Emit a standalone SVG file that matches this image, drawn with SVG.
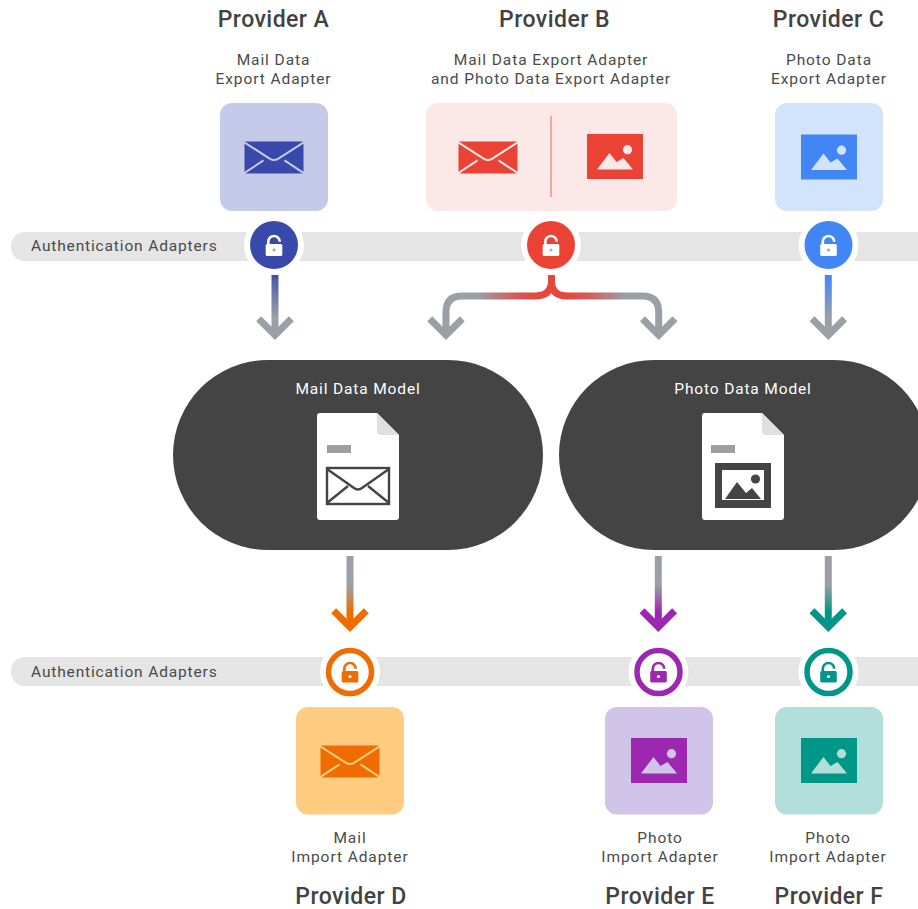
<svg xmlns="http://www.w3.org/2000/svg" width="918" height="909" viewBox="0 0 918 909">
<style>
text{font-family:Roboto,"Liberation Sans",sans-serif;text-anchor:middle}
.prov{font-size:23px;font-weight:500;fill:#424242;letter-spacing:.45px}
.sub{font-size:15.5px;fill:#4a4a4a;letter-spacing:.92px}
.band{font-size:15.5px;fill:#4a4a4a;letter-spacing:.85px;text-anchor:start}
.model{font-size:15.5px;fill:#fff;letter-spacing:.85px}
.bandr{fill:#e5e5e5}
.halo{fill:#fff}
.stem{fill:none;stroke-width:7}
.head{fill:none;stroke-width:7}
.blob{fill:#444}
.shk{fill:none;stroke-width:2.600}
</style>
<defs>
<linearGradient id="gA" gradientUnits="userSpaceOnUse" x1="0" y1="275" x2="0" y2="318"><stop offset="0" stop-color="#3949ab"/><stop offset=".15" stop-color="#5364a6"/><stop offset="1" stop-color="#9aa0a6"/></linearGradient>
<linearGradient id="gC" gradientUnits="userSpaceOnUse" x1="0" y1="275" x2="0" y2="318"><stop offset="0" stop-color="#4285f4"/><stop offset="1" stop-color="#9aa0a6"/></linearGradient>
<linearGradient id="gBL" gradientUnits="userSpaceOnUse" x1="538" y1="0" x2="478" y2="0"><stop offset="0" stop-color="#e5473c"/><stop offset=".3" stop-color="#d9554e"/><stop offset="1" stop-color="#9aa0a6"/></linearGradient>
<linearGradient id="gBR" gradientUnits="userSpaceOnUse" x1="565" y1="0" x2="625" y2="0"><stop offset="0" stop-color="#e5473c"/><stop offset=".3" stop-color="#d9554e"/><stop offset="1" stop-color="#9aa0a6"/></linearGradient>
<linearGradient id="gD" gradientUnits="userSpaceOnUse" x1="0" y1="585" x2="0" y2="612"><stop offset="0" stop-color="#9aa0a6"/><stop offset="1" stop-color="#ef6c00"/></linearGradient>
<linearGradient id="gE" gradientUnits="userSpaceOnUse" x1="0" y1="585" x2="0" y2="612"><stop offset="0" stop-color="#9aa0a6"/><stop offset="1" stop-color="#9c27b0"/></linearGradient>
<linearGradient id="gF" gradientUnits="userSpaceOnUse" x1="0" y1="585" x2="0" y2="612"><stop offset="0" stop-color="#9aa0a6"/><stop offset="1" stop-color="#009688"/></linearGradient>
<symbol id="env" viewBox="0 0 60 33" width="60" height="33" overflow="visible">
<rect x="0" y="0" width="60" height="33"/>
<path d="M-.5 .8L26 17.8Q30 20.2 34 17.8L60.5 .8M-.5 32.6L19.5 19.4M60.5 32.6L40.5 19.4" fill="none" stroke="inherit" stroke-width="2"/>
</symbol>
<symbol id="pic" viewBox="0 0 56 45" width="56" height="45" overflow="visible">
<rect x="0" y="0" width="56" height="45"/>
<path d="M10 35.500L22.500 19L29.500 28L36.500 24L46 35.500Z" fill="var(--p)"/>
<circle cx="40.500" cy="15.700" r="4.600" fill="var(--p)"/>
</symbol>
<path id="arm" d="M-16.300 -16.300L0 0L16.300 -16.300"/>
<path id="shk" d="M-5.700 0V-3.300a5.700 5.700 0 0 1 11.400 0"/>
</defs>

<g id="band-top"><rect class="bandr" x="11" y="232" width="930" height="29" rx="14"/><text class="band" x="31" y="250.500">Authentication Adapters</text></g>
<g id="band-bottom"><rect class="bandr" x="11" y="657" width="930" height="29" rx="14"/><text class="band" x="31" y="677">Authentication Adapters</text></g>

<g id="connectors">
<path class="stem" d="M275 275V333" stroke="url(#gA)"/>
<use href="#arm" x="275" y="335" class="head" stroke="#9aa0a6"/>
<path class="stem" d="M551.500 275V281Q551.500 296 535 296H462Q446 296 446 312V333" stroke="url(#gBL)"/>
<path class="stem" d="M551.500 275V281Q551.500 296 567 296H642Q658.700 296 658.700 312V333" stroke="url(#gBR)"/>
<use href="#arm" x="446" y="335" class="head" stroke="#9aa0a6"/>
<use href="#arm" x="658.700" y="335" class="head" stroke="#9aa0a6"/>
<path class="stem" d="M828.300 275V333" stroke="url(#gC)"/>
<use href="#arm" x="828.300" y="335" class="head" stroke="#9aa0a6"/>
<path class="stem" d="M350 556V625" stroke="url(#gD)"/>
<use href="#arm" x="350" y="627" class="head" stroke="#ef6c00"/>
<path class="stem" d="M658.300 556V625" stroke="url(#gE)"/>
<use href="#arm" x="658.300" y="627" class="head" stroke="#9c27b0"/>
<path class="stem" d="M828.300 556V625" stroke="url(#gF)"/>
<use href="#arm" x="828.300" y="627" class="head" stroke="#009688"/>
</g>

<g id="provider-a">
<text class="prov" x="273.500" y="27">Provider A</text>
<text class="sub" x="273.500" y="64.500">Mail Data</text><text class="sub" x="273.500" y="83.500">Export Adapter</text>
<rect x="220" y="103" width="108" height="108" rx="12" fill="#c5cae9"/>
<use href="#env" x="244" y="141" fill="#3949ab" stroke="#c5cae9"/>
</g>
<g id="provider-b">
<text class="prov" x="554.500" y="27">Provider B</text>
<text class="sub" x="551" y="64.500">Mail Data Export Adapter</text><text class="sub" x="551" y="83.500">and Photo Data Export Adapter</text>
<rect x="426" y="103" width="251" height="108" rx="12" fill="#fce8e6"/>
<path d="M551 116V197" stroke="#f28b82" stroke-width="1.400"/>
<use href="#env" x="458" y="141" fill="#ea4335" stroke="#fce8e6"/>
<use href="#pic" x="587" y="134" fill="#ea4335" style="--p:#fce8e6"/>
</g>
<g id="provider-c">
<text class="prov" x="828.500" y="27">Provider C</text>
<text class="sub" x="829" y="64.500">Photo Data</text><text class="sub" x="829" y="83.500">Export Adapter</text>
<rect x="775" y="103" width="108" height="108" rx="12" fill="#d2e3fc"/>
<use href="#pic" x="801" y="134.500" fill="#4285f4" style="--p:#d2e3fc"/>
</g>

<g id="lock-a"><circle class="halo" cx="274" cy="245" r="30"/><circle cx="274" cy="245" r="24" fill="#3949ab"/>
<use href="#shk" x="274" y="245" class="shk" stroke="#fff"/><rect x="265.700" y="244" width="16.600" height="12" rx="1.500" fill="#fff"/><circle cx="274" cy="250" r="1.500" fill="#9aa0c0"/></g>
<g id="lock-b"><circle class="halo" cx="551" cy="245" r="30"/><circle cx="551" cy="245" r="24" fill="#ea4335"/>
<use href="#shk" x="551" y="245" class="shk" stroke="#fff"/><rect x="542.700" y="244" width="16.600" height="12" rx="1.500" fill="#fff"/><circle cx="551" cy="250" r="1.500" fill="#c9a0a0"/></g>
<g id="lock-c"><circle class="halo" cx="828.500" cy="245" r="30"/><circle cx="828.500" cy="245" r="24" fill="#4285f4"/>
<use href="#shk" x="828.500" y="245" class="shk" stroke="#fff"/><rect x="820.200" y="244" width="16.600" height="12" rx="1.500" fill="#fff"/><circle cx="828.500" cy="250" r="1.500" fill="#9aa0b0"/></g>

<g id="mail-data-model">
<rect class="blob" x="173" y="360" width="370" height="190" rx="95"/>
<text class="model" x="358" y="394">Mail Data Model</text>
<path d="M320 413H377L399 435V517a3 3 0 0 1-3 3H320a3 3 0 0 1-3-3V416a3 3 0 0 1 3-3Z" fill="#fff"/>
<path d="M377 413L399 435H381a4 4 0 0 1-4-4Z" fill="#e0e0e0"/>
<rect x="327" y="445" width="24" height="8" fill="#9e9e9e"/>
<rect x="327" y="468" width="62" height="36" fill="#fff" stroke="#444" stroke-width="2.400"/>
<path d="M327 469L354 488Q358 491 362 488L389 469M327 503L348 486M389 503L368 486" fill="none" stroke="#444" stroke-width="2.400"/>
</g>
<g id="photo-data-model">
<rect class="blob" x="559" y="360" width="370" height="190" rx="95"/>
<text class="model" x="743" y="394">Photo Data Model</text>
<path d="M705 413H762L784 435V517a3 3 0 0 1-3 3H705a3 3 0 0 1-3-3V416a3 3 0 0 1 3-3Z" fill="#fff"/>
<path d="M762 413L784 435H766a4 4 0 0 1-4-4Z" fill="#e0e0e0"/>
<rect x="711" y="445" width="24" height="8" fill="#9e9e9e"/>
<rect x="715" y="463" width="56" height="45" fill="#444"/>
<rect x="722" y="470" width="42" height="30" fill="#fff"/>
<path d="M725 499L737 482L746 493L752 488L761 499Z" fill="#444"/>
<circle cx="755.500" cy="479" r="4.600" fill="#444"/>
</g>

<g id="lock-d"><circle class="halo" cx="350" cy="672" r="30"/><circle cx="350" cy="672" r="21.500" fill="#fff" stroke="#ef6c00" stroke-width="5.500"/>
<use href="#shk" x="350" y="672" class="shk" stroke="#ef6c00"/><rect x="341.700" y="671" width="16.600" height="11.500" rx="1.500" fill="#ef6c00"/><circle cx="350" cy="676.500" r="1.600" fill="#fff"/></g>
<g id="lock-e"><circle class="halo" cx="658.500" cy="672" r="30"/><circle cx="658.500" cy="672" r="21.500" fill="#fff" stroke="#9c27b0" stroke-width="5.500"/>
<use href="#shk" x="658.500" y="672" class="shk" stroke="#9c27b0"/><rect x="650.200" y="671" width="16.600" height="11.500" rx="1.500" fill="#9c27b0"/><circle cx="658.500" cy="676.500" r="1.600" fill="#fff"/></g>
<g id="lock-f"><circle class="halo" cx="828.500" cy="672" r="30"/><circle cx="828.500" cy="672" r="21.500" fill="#fff" stroke="#009688" stroke-width="5.500"/>
<use href="#shk" x="828.500" y="672" class="shk" stroke="#009688"/><rect x="820.200" y="671" width="16.600" height="11.500" rx="1.500" fill="#009688"/><circle cx="828.500" cy="676.500" r="1.600" fill="#fff"/></g>

<g id="provider-d">
<rect x="296" y="707" width="108" height="107.500" rx="12" fill="#ffcc80"/>
<use href="#env" x="320" y="745" fill="#ef6c00" stroke="#ffcc80"/>
<text class="sub" x="350" y="843">Mail</text><text class="sub" x="350" y="862">Import Adapter</text>
<text class="prov" x="351" y="903.500">Provider D</text>
</g>
<g id="provider-e">
<rect x="605" y="707" width="108" height="107.500" rx="12" fill="#d1c4e9"/>
<use href="#pic" x="631" y="738" fill="#9c27b0" style="--p:#d1c4e9"/>
<text class="sub" x="660" y="843">Photo</text><text class="sub" x="660" y="862">Import Adapter</text>
<text class="prov" x="660" y="903.500">Provider E</text>
</g>
<g id="provider-f">
<rect x="775" y="707" width="108" height="107.500" rx="12" fill="#b2dfdb"/>
<use href="#pic" x="801" y="738" fill="#009688" style="--p:#b2dfdb"/>
<text class="sub" x="828" y="843">Photo</text><text class="sub" x="828" y="862">Import Adapter</text>
<text class="prov" x="829" y="903.500">Provider F</text>
</g>
</svg>
